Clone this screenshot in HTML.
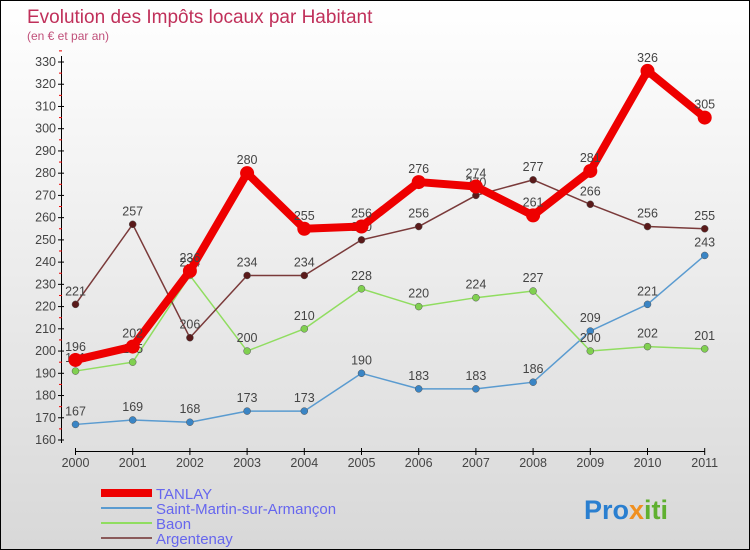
<!DOCTYPE html>
<html><head><meta charset="utf-8"><style>
body{margin:0}
#c{width:748px;height:548px;border:1px solid #000;background:linear-gradient(#fff,#d8d8d8);position:relative;font-family:"Liberation Sans",sans-serif;overflow:hidden}
</style></head><body>
<div id="c">
<svg id="s" width="748" height="548" style="position:absolute;left:0;top:0">
<text x="26" y="22" font-size="19" fill="#c0305a">Evolution des Impôts locaux par Habitant</text>
<text x="26" y="39" font-size="12" fill="#c0507a">(en € et par an)</text>
<g id="ax"></g><g id="ser"></g>
<g><text x="583" y="518" font-size="27" font-weight="bold" fill="#2a7fd0">Pro<tspan fill="#f09020">x</tspan><tspan fill="#60b030">iti</tspan></text></g>
</svg>
</div>
<script>
const years=["2000","2001","2002","2003","2004","2005","2006","2007","2008","2009","2010","2011"];
const tanlay=[196,202,236,280,255,256,276,274,261,281,326,305];
const stMartin=[167,169,168,173,173,190,183,183,186,209,221,243];
const baon=[191,195,234,200,210,228,220,224,227,200,202,201];
const argentenay=[221,257,206,234,234,250,256,270,277,266,256,255];
const yTicks=[160,170,180,190,200,210,220,230,240,250,260,270,280,290,300,310,320,330];
const NS="http://www.w3.org/2000/svg";
const X=i=>74.5+i*57.2, Y=v=>439-(v-160)*378/170;
function mk(t,a,p){const e=document.createElementNS(NS,t);for(const k in a)e.setAttribute(k,a[k]);p.appendChild(e);return e;}
const ax=document.getElementById('ax');
const yl=mk('line',{x1:60.5,x2:60.5,y1:55,y2:442,stroke:'#000'},ax);


yTicks.forEach(v=>{mk('line',{x1:57,x2:63,y1:Y(v),y2:Y(v),stroke:'#000'},ax);
 mk('line',{x1:58,x2:61,y1:Y(v+5),y2:Y(v+5),stroke:'#e00'},ax);
 const t=mk('text',{x:55,y:Y(v)+4,'text-anchor':'end','font-size':12.5,fill:'#444'},ax);t.textContent=v;
 
 });
const xl=mk('line',{x1:X(0),x2:X(11),y1:450.5,y2:450.5,stroke:'#000'},ax);


years.forEach((y,i)=>{mk('line',{x1:X(i),x2:X(i),y1:447,y2:454,stroke:'#000'},ax);
 const t=mk('text',{x:X(i),y:466,'text-anchor':'middle','font-size':12.5,fill:'#444'},ax);t.textContent=y;
 
 });
const ser=document.getElementById('ser');
const series=[[stMartin,'#5a9bd0','#3a85c5',1.5,3.5,'Saint-Martin-sur-Armançon'],[baon,'#90dd60','#80d050',1.5,3.5,'Baon'],[argentenay,'#7a3a3a','#5a1a1a',1.5,3.5,'Argentenay'],[tanlay,'#ee0000','#ee0000',8,7,'TANLAY']];
series.forEach(([d,c,dc,w,r,n])=>{
 const g=mk('g',{},ser);
 
 
 mk('polyline',{points:d.map((v,i)=>X(i)+','+Y(v)).join(' '),fill:'none',stroke:c,'stroke-width':w,'stroke-linejoin':'round'},g);
 d.forEach((v,i)=>{const p=mk('circle',{cx:X(i),cy:Y(v),r:r,fill:dc,stroke:w>2?'none':'#555','stroke-width':0.5},g);
  
  
  const t=mk('text',{x:X(i),y:Y(v)-9,'text-anchor':'middle','font-size':12.5,fill:'#444'},g);t.textContent=v;
  
  });
});
const leg=[['TANLAY','#ee0000',8],['Saint-Martin-sur-Armançon','#5a9bd0',2],['Baon','#90dd60',2],['Argentenay','#8a5a5a',2]];
leg.forEach(([n,c,w],i)=>{const y=492+i*15;
 const g=mk('g',{},ser);
 
 
 mk('line',{x1:100,x2:151,y1:y,y2:y,stroke:c,'stroke-width':w},g);
 const t=mk('text',{x:155,y:y+6,'font-size':15,fill:'#6666ee'},g);t.textContent=n;});
</script>
</body></html>
